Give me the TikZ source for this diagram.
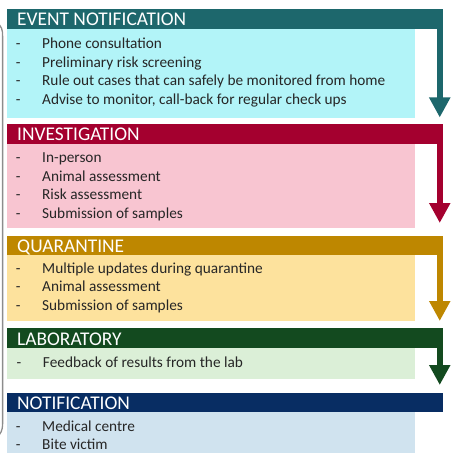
\documentclass[tikz,border=0pt]{standalone}
\usepackage{fontspec}
\setmainfont{Carlito}
\usepackage{array}
\usetikzlibrary{arrows.meta}
\definecolor{cA}{HTML}{1D676C}\definecolor{bA}{HTML}{B2F4F8}
\definecolor{cB}{HTML}{A4002F}\definecolor{bB}{HTML}{F8C5D1}
\definecolor{cC}{HTML}{BE8700}\definecolor{bC}{HTML}{FDE29D}
\definecolor{cD}{HTML}{134A1F}\definecolor{bD}{HTML}{DBEFD7}
\definecolor{cE}{HTML}{082D63}\definecolor{bE}{HTML}{D0E3EF}
\definecolor{txt}{HTML}{262626}
\definecolor{brk}{HTML}{8C8C8C}
\newcommand{\itemsbody}[1]{\begin{tabular}[t]{@{}p{26.3pt}@{}l@{}}#1\end{tabular}}
\begin{document}
\begin{tikzpicture}[x=1pt,y=1pt,
  hdr/.style={rectangle,inner sep=0pt,minimum width=436pt,minimum height=19.5pt,anchor=north west},
  bodybox/.style={rectangle,inner sep=0pt,minimum width=408pt,anchor=north west},
  htext/.style={anchor=base west,inner sep=0pt,text=white,font=\fontsize{19.4}{22}\selectfont},
  btext/.style={anchor=base west,inner sep=0pt,text=txt,font=\fontsize{15.3}{18.5}\selectfont},
  stem/.style={line width=6.5pt,-{Triangle[width=20pt,length=20pt]}}]
\useasboundingbox (0,0) rectangle (460,-462);
% left bracket
\draw[brk,line width=1.3pt] (-4,-22) .. controls (2,-26) and (2.6,-30) .. (2.6,-36) -- (2.6,-424) .. controls (2.6,-430) and (1,-434) .. (-4,-438);
% Event notification
\node[bodybox,fill=bA,minimum height=90pt] (b1) at (7,-28) {};
\node[hdr,fill=cA] (h1) at (7,-9) {};
\node[htext] (h1t) at (17,-26) {EVENT NOTIFICATION};
\node[btext] (l1) at (15.7,-49) {\itemsbody{- & Phone consultation\\ - & Preliminary risk screening\\ - & Rule out cases that can safely be monitored from home\\ - & Advise to monitor, call-back for regular check ups}};
% Investigation
\node[bodybox,fill=bB,minimum height=85pt] (b2) at (7,-143) {};
\node[hdr,fill=cB] (h2) at (7,-124) {};
\node[htext] (h2t) at (17,-141) {INVESTIGATION};
\node[btext] (l2) at (15.7,-163) {\itemsbody{- & In-person\\ - & Animal assessment\\ - & Risk assessment\\ - & Submission of samples}};
% Quarantine
\node[bodybox,fill=bC,minimum height=66pt] (b3) at (7,-255) {};
\node[hdr,fill=cC] (h3) at (7,-235.5) {};
\node[htext] (h3t) at (17,-252.5) {QUARANTINE};
\node[btext] (l3) at (15.7,-273) {\itemsbody{- & Multiple updates during quarantine\\ - & Animal assessment\\ - & Submission of samples}};
% Laboratory
\node[bodybox,fill=bD,minimum height=32pt] (b4) at (7,-347) {};
\node[hdr,fill=cD] (h4) at (7,-328) {};
\node[htext] (h4t) at (17,-345) {LABORATORY};
\node[btext] (l4) at (16.5,-367) {\itemsbody{- & Feedback of results from the lab}};
% Notification
\node[bodybox,fill=bE,minimum height=41pt] (b5) at (7,-412) {};
\node[hdr,fill=cE] (h5) at (7,-392.5) {};
\node[htext] (h5t) at (17,-409.5) {NOTIFICATION};
\node[btext] (l5) at (15.7,-431) {\itemsbody{- & Medical centre\\ - & Bite victim}};
% arrows
\coordinate (t1) at (439.75,-117.5);
\coordinate (t2) at (439.75,-223);
\coordinate (t3) at (439.75,-321);
\coordinate (t4) at (439.75,-385);
\draw[stem,cA] (h1.center -| t1) -- (t1);
\draw[stem,cB] (h2.center -| t2) -- (t2);
\draw[stem,cC] (h3.center -| t3) -- (t3);
\draw[stem,cD] (h4.center -| t4) -- (t4);
\end{tikzpicture}
\end{document}
